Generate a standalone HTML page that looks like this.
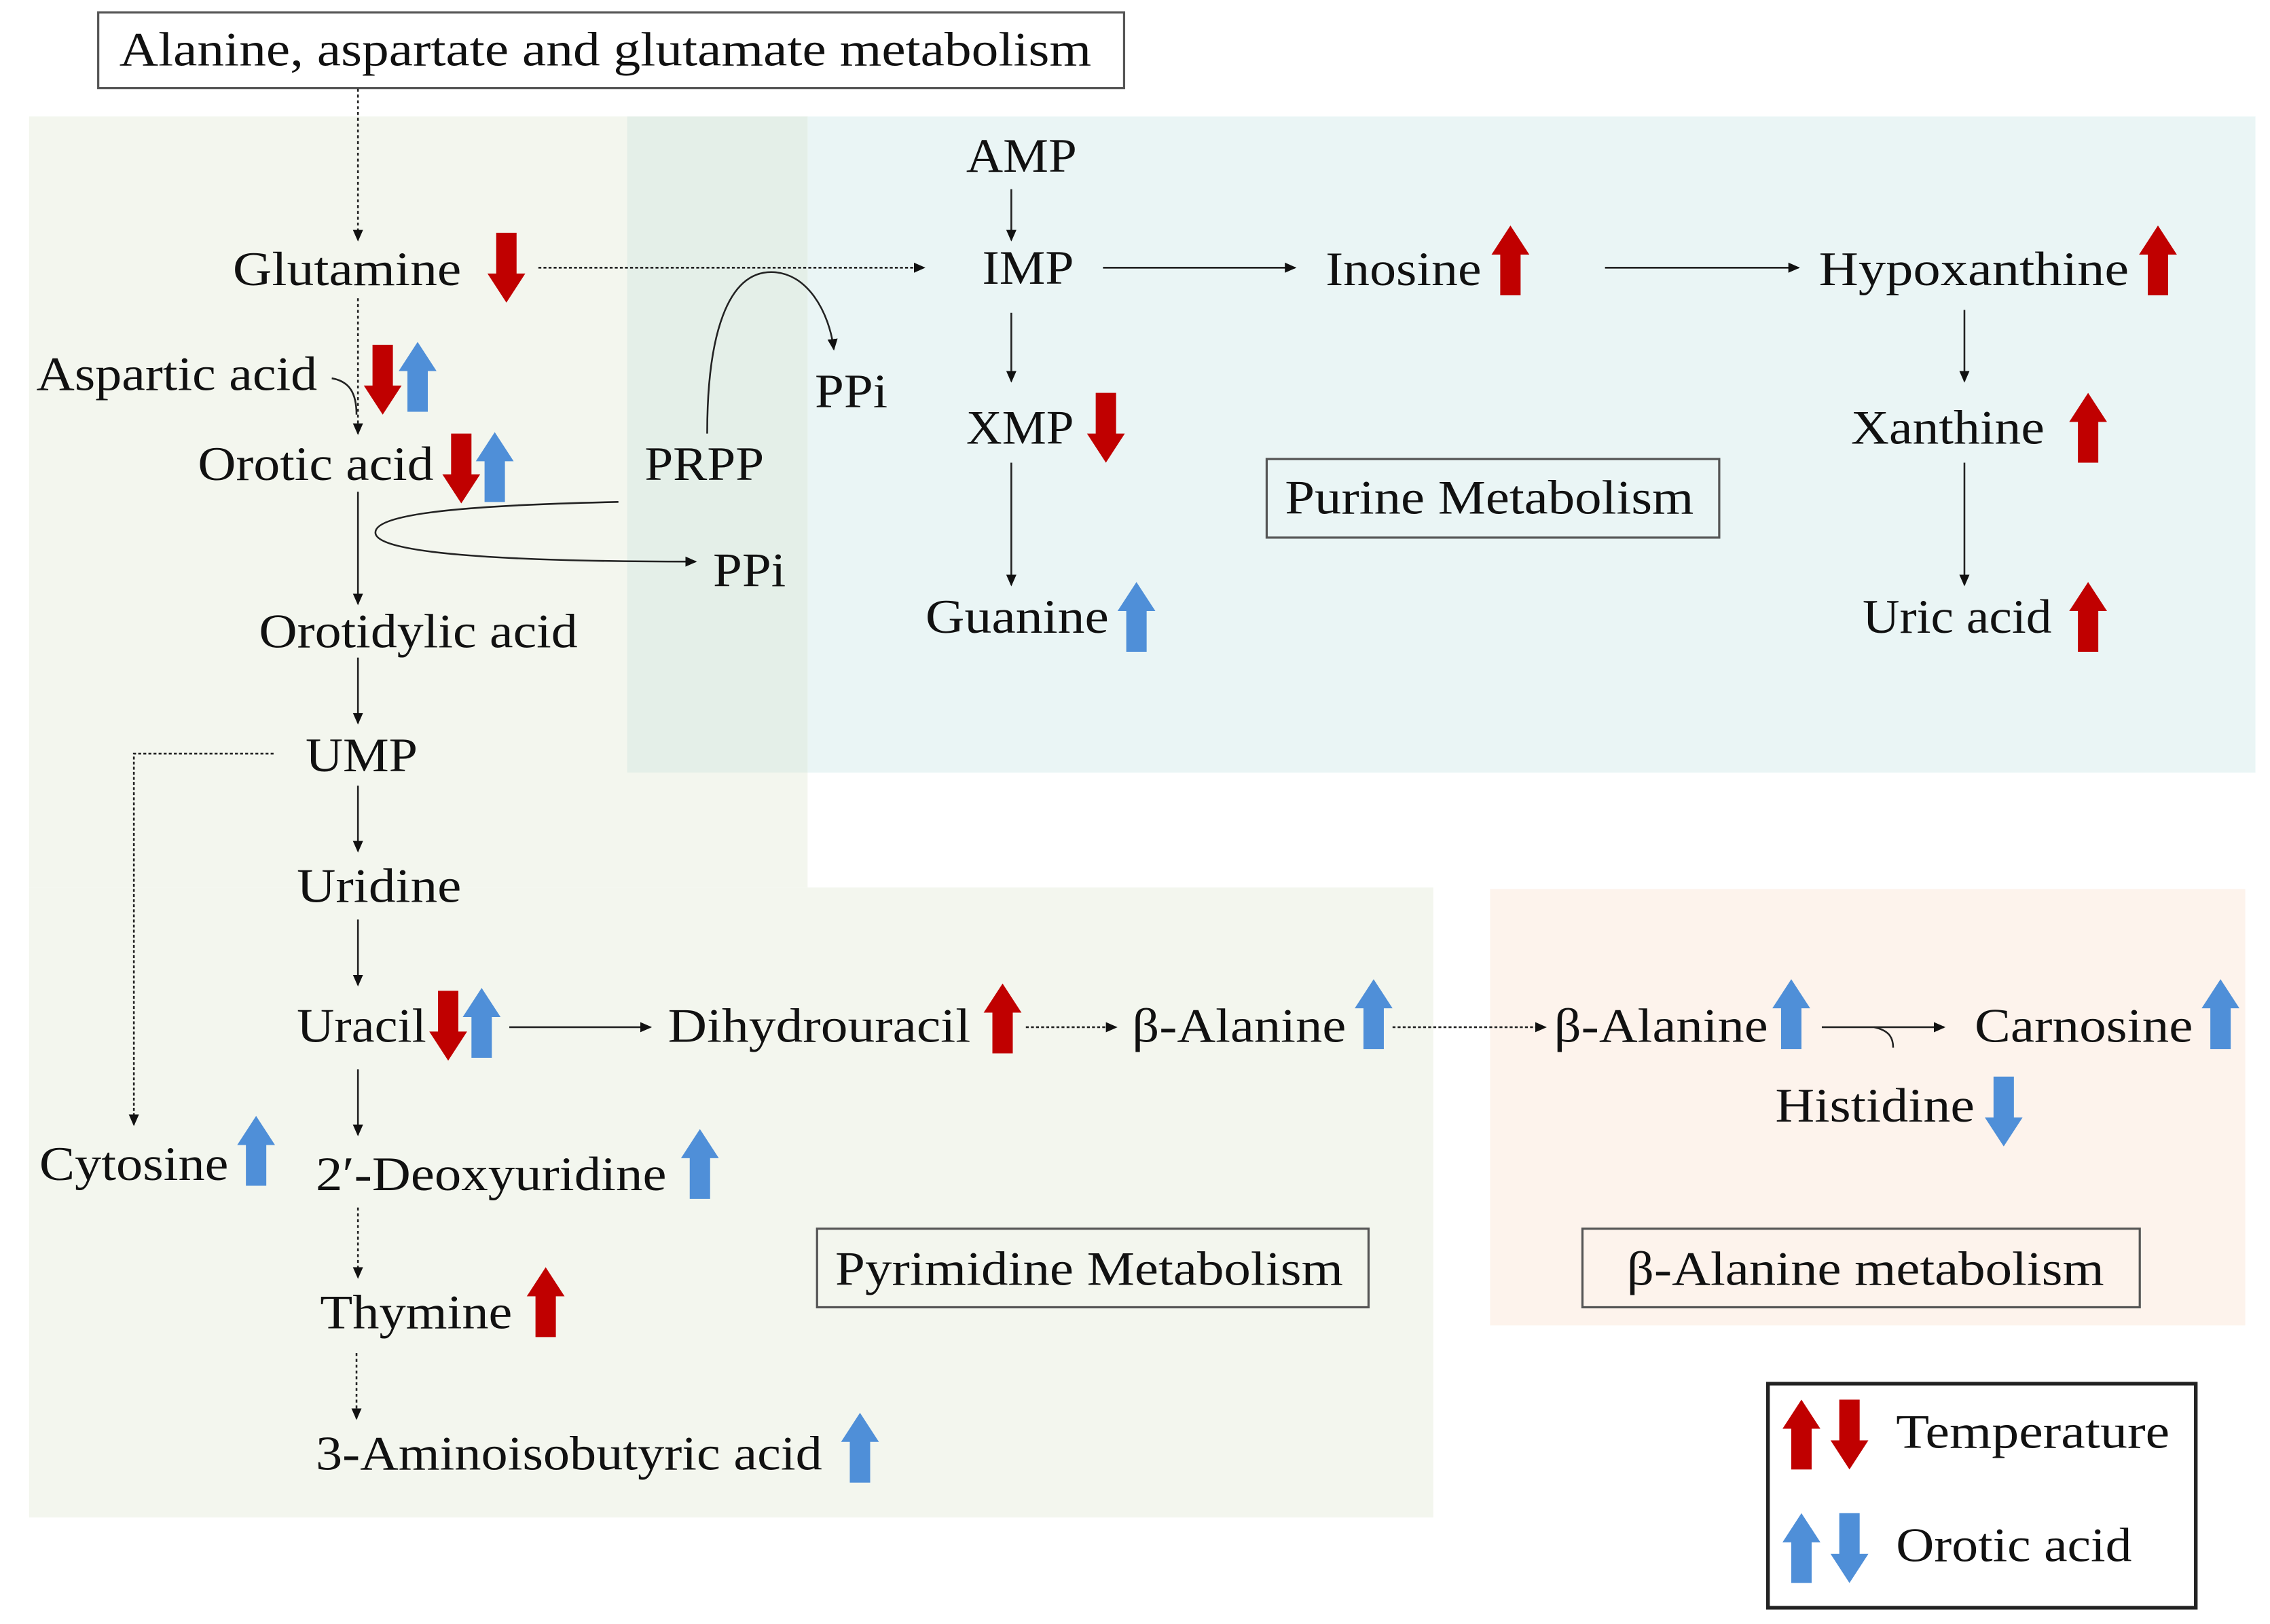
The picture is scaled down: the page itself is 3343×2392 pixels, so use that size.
<!DOCTYPE html>
<html><head><meta charset="utf-8"><style>
html,body{margin:0;padding:0;background:#fff;}
svg{display:block;}
text{font-family:"Liberation Serif",serif;font-size:33px;fill:#111;}
</style></head><body>
<svg width="3343" height="2392" viewBox="0 0 1560 1116.2" preserveAspectRatio="none" xmlns="http://www.w3.org/2000/svg">
<defs>
<marker id="ah" markerWidth="8" markerHeight="8" refX="7" refY="4" orient="auto" markerUnits="userSpaceOnUse"><path d="M0,0.5 L8,4 L0,7.5 Z" fill="#111"/></marker>
<g id="up"><path d="M-7,48 L-7,20 L-13,20 L0,0 L13,20 L7,20 L7,48 Z"/></g>
<g id="dn"><path d="M-7,0 L-7,28 L-13,28 L0,48 L13,28 L7,28 L7,0 Z"/></g>
</defs>
<!-- regions -->
<rect x="20" y="80" width="535" height="530" fill="#f3f6ee"/>
<rect x="20" y="610" width="965" height="433" fill="#f3f6ee"/>
<rect x="555" y="80" width="995" height="451" fill="#eaf5f5"/>
<rect x="431" y="80" width="124" height="451" fill="#e4efe8"/>
<rect x="1024" y="611" width="519" height="300" fill="#fdf3ec"/>

<!-- boxes -->
<rect x="67.5" y="8.5" width="705" height="52" fill="#fff" stroke="#555" stroke-width="1.5"/>
<text x="82" y="45" textLength="668" lengthAdjust="spacingAndGlyphs">Alanine, aspartate and glutamate metabolism</text>
<rect x="870.5" y="315.5" width="311" height="54" fill="none" stroke="#555" stroke-width="1.5"/>
<text x="883" y="353" textLength="281" lengthAdjust="spacingAndGlyphs">Purine Metabolism</text>
<rect x="561.5" y="844.5" width="379" height="54" fill="none" stroke="#555" stroke-width="1.5"/>
<text x="574" y="883" textLength="349" lengthAdjust="spacingAndGlyphs">Pyrimidine Metabolism</text>
<rect x="1087.5" y="844.5" width="383" height="54" fill="none" stroke="#555" stroke-width="1.5"/>
<text x="1118" y="883" textLength="328" lengthAdjust="spacingAndGlyphs">β-Alanine metabolism</text>
<rect x="1215" y="951" width="294" height="154" fill="#fff" stroke="#222" stroke-width="2.5"/>
<text x="1303" y="995" textLength="188" lengthAdjust="spacingAndGlyphs">Temperature</text>
<text x="1303" y="1073" textLength="162" lengthAdjust="spacingAndGlyphs">Orotic acid</text>

<!-- labels -->
<g>
<text x="664" y="118" textLength="76" lengthAdjust="spacingAndGlyphs">AMP</text>
<text x="160" y="196" textLength="157" lengthAdjust="spacingAndGlyphs">Glutamine</text>
<text x="675" y="195" textLength="63" lengthAdjust="spacingAndGlyphs">IMP</text>
<text x="911" y="196" textLength="107" lengthAdjust="spacingAndGlyphs">Inosine</text>
<text x="1250" y="196" textLength="213" lengthAdjust="spacingAndGlyphs">Hypoxanthine</text>
<text x="25" y="268" textLength="193" lengthAdjust="spacingAndGlyphs">Aspartic acid</text>
<text x="560" y="280" textLength="50" lengthAdjust="spacingAndGlyphs">PPi</text>
<text x="664" y="305" textLength="74" lengthAdjust="spacingAndGlyphs">XMP</text>
<text x="1272" y="305" textLength="133" lengthAdjust="spacingAndGlyphs">Xanthine</text>
<text x="136" y="330" textLength="162" lengthAdjust="spacingAndGlyphs">Orotic acid</text>
<text x="443" y="330" textLength="82" lengthAdjust="spacingAndGlyphs">PRPP</text>
<text x="490" y="403" textLength="50" lengthAdjust="spacingAndGlyphs">PPi</text>
<text x="178" y="445" textLength="219" lengthAdjust="spacingAndGlyphs">Orotidylic acid</text>
<text x="636" y="435" textLength="126" lengthAdjust="spacingAndGlyphs">Guanine</text>
<text x="1280" y="435" textLength="130" lengthAdjust="spacingAndGlyphs">Uric acid</text>
<text x="210" y="530" textLength="77" lengthAdjust="spacingAndGlyphs">UMP</text>
<text x="204" y="620" textLength="113" lengthAdjust="spacingAndGlyphs">Uridine</text>
<text x="204" y="716" textLength="89" lengthAdjust="spacingAndGlyphs">Uracil</text>
<text x="459" y="716" textLength="208" lengthAdjust="spacingAndGlyphs">Dihydrouracil</text>
<text x="778" y="716" textLength="147" lengthAdjust="spacingAndGlyphs">β-Alanine</text>
<text x="1068" y="716" textLength="147" lengthAdjust="spacingAndGlyphs">β-Alanine</text>
<text x="1357" y="716" textLength="150" lengthAdjust="spacingAndGlyphs">Carnosine</text>
<text x="1220" y="771" textLength="137" lengthAdjust="spacingAndGlyphs">Histidine</text>
<text x="27" y="811" textLength="130" lengthAdjust="spacingAndGlyphs">Cytosine</text>
<text x="217" y="818" textLength="241" lengthAdjust="spacingAndGlyphs">2′-Deoxyuridine</text>
<text x="220" y="913" textLength="132" lengthAdjust="spacingAndGlyphs">Thymine</text>
<text x="217" y="1010" textLength="348" lengthAdjust="spacingAndGlyphs">3-Aminoisobutyric acid</text>
</g>

<!-- connectors -->
<g stroke="#222" stroke-width="1.2" fill="none">
<path d="M246,61 V165" stroke-dasharray="2,2" marker-end="url(#ah)"/>
<path d="M370,184 H635" stroke-dasharray="2,1.5" marker-end="url(#ah)"/>
<path d="M486,298 C486,230 500,187 530,187 C555,187 570,215 573,240" marker-end="url(#ah)"/>
<path d="M695,130 V165" marker-end="url(#ah)"/>
<path d="M695,215 V262" marker-end="url(#ah)"/>
<path d="M695,318 V402" marker-end="url(#ah)"/>
<path d="M758,184 H890" marker-end="url(#ah)"/>
<path d="M1103,184 H1236" marker-end="url(#ah)"/>
<path d="M1350,213 V262" marker-end="url(#ah)"/>
<path d="M1350,318 V402" marker-end="url(#ah)"/>
<path d="M246,205 V298" stroke-dasharray="2,2" marker-end="url(#ah)"/>
<path d="M228,260 C240,262 245,270 245,285"/>
<path d="M246,338 V415" marker-end="url(#ah)"/>
<path d="M425,345 C330,347 258,352 258,366 C258,380 340,386 478,386" marker-end="url(#ah)"/>
<path d="M246,452 V497" marker-end="url(#ah)"/>
<path d="M188,518 H92 V773" stroke-dasharray="2,1.5" marker-end="url(#ah)"/>
<path d="M246,540 V585" marker-end="url(#ah)"/>
<path d="M246,632 V677" marker-end="url(#ah)"/>
<path d="M350,706 H447" marker-end="url(#ah)"/>
<path d="M705,706 H767" stroke-dasharray="2,1.5" marker-end="url(#ah)"/>
<path d="M957,706 H1062" stroke-dasharray="2,1.5" marker-end="url(#ah)"/>
<path d="M1252,706 H1336" marker-end="url(#ah)"/>
<path d="M1301,720 C1301,712 1297,708 1288,706"/>
<path d="M246,735 V780" marker-end="url(#ah)"/>
<path d="M246,830 V878" stroke-dasharray="2,2" marker-end="url(#ah)"/>
<path d="M245,930 V975" stroke-dasharray="2,2" marker-end="url(#ah)"/>
</g>

<!-- red arrows -->
<g fill="#c00000">
<use href="#dn" x="348" y="160"/>
<use href="#dn" x="263" y="237"/>
<use href="#dn" x="317" y="298"/>
<use href="#dn" x="760" y="270"/>
<use href="#up" x="1038" y="155"/>
<use href="#up" x="1483" y="155"/>
<use href="#up" x="1435" y="270"/>
<use href="#up" x="1435" y="400"/>
<use href="#dn" x="308" y="681"/>
<use href="#up" x="689" y="676"/>
<use href="#up" x="375" y="871"/>
<use href="#up" x="1238" y="962"/>
<use href="#dn" x="1271" y="962"/>
</g>
<!-- blue arrows -->
<g fill="#4f8fd8">
<use href="#up" x="287" y="235"/>
<use href="#up" x="340" y="297"/>
<use href="#up" x="781" y="400"/>
<use href="#up" x="331" y="679"/>
<use href="#up" x="944" y="673"/>
<use href="#up" x="1231" y="673"/>
<use href="#up" x="1526" y="673"/>
<use href="#dn" x="1377" y="740"/>
<use href="#up" x="176" y="767"/>
<use href="#up" x="481" y="776"/>
<use href="#up" x="591" y="971"/>
<use href="#up" x="1238" y="1040"/>
<use href="#dn" x="1271" y="1040"/>
</g>
</svg>
</body></html>
